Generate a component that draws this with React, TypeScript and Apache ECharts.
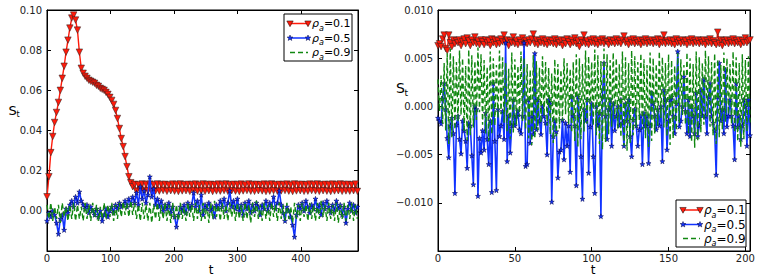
import React, { useEffect, useRef } from "react";
import * as echarts from "echarts";

// values are in units of 1e-3
const UNIT = 1e-3;
const STEP_LEFT = 3; // t spacing of left-panel samples
const STEP_RIGHT = 1;

const redLeft = [
  7, 17, 29, 37, 44, 49, 54, 60, 66, 72, 79, 85, 91, 96, 97.5, 95, 90, 79, 71, 68.5,
  67, 66, 65, 64.5, 64, 63.5, 62.5, 62, 61, 60.5, 60, 59, 58, 56.5, 55, 53, 50, 46, 41, 36,
  32, 27, 22, 17, 14, 12,
  13.2, 9.8, 13.0, 10.1, 13.4, 9.7, 13.1, 10.0, 13.3, 9.6,
  13.0, 9.9, 13.4, 9.8, 13.1, 10.1, 13.2, 9.7, 12.9, 10.0,
  13.3, 9.8, 13.1, 9.6, 13.4, 9.9, 13.0, 10.0, 13.2, 9.7,
  13.1, 10.1, 13.3, 9.8, 12.9, 9.9, 13.4, 9.7, 13.1, 10.0,
  13.2, 9.6, 13.0, 9.9, 13.3, 9.8, 13.1, 10.1, 13.4, 9.7,
  13.0, 10.0, 13.2, 9.8, 13.1, 9.6, 13.3, 9.9, 12.9, 10.1,
  13.4, 9.8, 13.1, 9.7, 13.2, 10.0, 13.0, 9.9, 13.3, 9.6,
  13.1, 9.8, 13.4, 10.0, 13.0, 9.7, 13.2, 9.9, 13.1, 10.1,
  13.3, 9.8, 12.9, 9.6, 13.4, 9.9, 13.1, 10.0, 13.2, 9.7,
  13.0, 9.8, 13.3, 10.1, 13.1, 9.9, 13.4, 9.7, 13.0, 10.0,
  13.2, 9.8, 13.1, 9.6, 13.3, 9.9, 13.0, 10.0, 13.4, 9.7,
  13.1, 9.9, 13.2, 9.8, 13.0, 10.0, 13.3, 9.7,
];

const blueLeft = [
  -5, -1, -3, 0, -2, -6, -11.5, -4, -2, -9.5,
  1, -1, 3, 5, 2, 7, 4, 9.5, 5, 3,
  1, 3, -1, 2, 0, -2, 1, -3, 0, -5,
  -2, 1, -3, 0, 2, -1, 3, 1, 4, 2,
  3, 5, 2, 6, 3, 7, 4, 9, 3, 12,
  6, 10, 4, 8, 17, 7, 11, 3, 6, 2,
  5, 0, 3, 1, 4, -1, 2, -3, -8, -2,
  2, 0, 3, -1, 4, 1, 3, 9, 2, 5,
  0, 8, -2, 3, 1, 4, 0, 2, -3, 3,
  1, 5, 2, 6, 0, 4, 10, 2, 5, 1,
  6, 0, 3, -2, 4, 1, 5, -1, 3, 0,
  4, 2, -2, 3, 1, 5, 0, 4, 2, 7,
  1, 4, 10, 3, -1, -5, 2, 0, -3, -7,
  -13, -2, 3, 1, 4, 0, 5, 2, -1, 3,
  1, 6, 0, 3, -2, 4, 1, 5, 2, -1,
  3, 0, 5, 1, 3, -2, 2, -6, 1, 4,
  0, 3, -1, 2,
];

const greenLeft = [
  3, -4, 4, -5, 2, -4, 3, -6, 4, -3, 2, -5, 3, -4, 4, -5, 3, -4, 2, -5,
  4, -4, 3, -5, 4, -3, 3, -5, 2, -4, 4, -4, 3, -3, 4, -5, 3, -4, 4, -3,
  4.5, -2, 4, -3, 5, -2, 4, -4, 3, -5, 4, -4, 3, -5, 4, -6, 3, -4, 4, -5,
  3, -4, 4, -5, 3, -6, 4, -4, 3, -5, 4, -4, 2, -5, 4, -3, 3, -5, 4, -4,
  3, -5, 4, -4, 3, -6, 4, -4, 5, -3, 3, -5, 4, -4, 3, -5, 4, -3, 3, -5,
  4, -4, 3, -5, 4, -4, 3, -6, 4, -3, 5, -4, 3, -5, 4, -4, 3, -5, 4, -3,
  3, -5, 4, -4, 3, -5, 4, -4, 2, -6, 4, -4, 3, -5, 4, -3, 3, -5, 4, -4,
  3, -5, 4, -4, 5, -3, 3, -5, 4, -4, 3, -5, 4, -6, 3, -4, 4, -5, 3, -4,
  4, -5, 3, -4,
];

const redRight = [
  6.3, 6.5, 6.2, 7.0, 7.4, 6.0, 5.8, 7.4, 6.6, 6.2,
  6.9, 6.5, 6.8, 6.6, 6.9, 6.3, 6.7, 7.0, 6.5, 7.1,
  6.8, 6.3, 6.9, 6.6, 7.2, 6.5, 6.8, 6.4, 6.9, 6.7,
  6.4, 6.9, 6.6, 6.8, 6.3, 7.0, 6.6, 6.9, 6.4, 6.8,
  6.5, 7.0, 6.7, 7.4, 6.6, 6.9, 6.3, 6.8, 6.6, 7.2,
  6.5, 6.8, 6.4, 6.9, 6.6, 7.1, 6.4, 6.8, 6.5, 6.9,
  6.6, 7.0, 7.5, 6.5, 6.9, 6.4, 6.8, 6.6, 7.0, 6.5,
  6.8, 6.4, 6.9, 6.6, 6.8, 6.5, 7.0, 6.4, 6.8, 6.6,
  6.9, 6.3, 6.8, 6.5, 7.0, 6.7, 6.4, 6.9, 6.6, 7.1,
  6.5, 6.8, 6.2, 6.9, 6.6, 7.4, 6.5, 6.8, 6.4, 6.9,
  6.6, 7.0, 6.5, 6.8, 6.4, 6.9, 6.6, 7.0, 6.5, 6.8,
  6.7, 6.4, 6.9, 6.6, 6.8, 6.5, 7.0, 6.6, 6.8, 6.5,
  6.9, 7.3, 6.6, 6.8, 6.4, 6.9, 6.6, 7.0, 6.5, 6.8,
  6.6, 6.9, 6.4, 6.8, 6.6, 7.0, 6.5, 6.8, 6.6, 6.9,
  6.5, 6.8, 6.6, 7.0, 6.4, 6.9, 6.6, 7.4, 6.5, 6.8,
  6.6, 6.9, 6.5, 6.8, 6.4, 7.0, 6.6, 6.8, 6.5, 6.9,
  6.6, 6.8, 6.4, 6.9, 6.6, 7.0, 6.5, 6.8, 6.6, 6.9,
  6.5, 6.8, 6.6, 6.9, 6.4, 6.8, 6.6, 7.0, 6.5, 6.8,
  6.6, 6.4, 7.7, 6.5, 6.9, 6.3, 6.8, 6.6, 6.9, 6.5,
  6.8, 6.6, 7.0, 6.5, 6.8, 6.6, 6.9, 6.4, 6.8, 6.6,
  7.1, 6.6, 6.8, 6.9,
];

const blueRight = [
  -1.2, -1.5, -1.8, 0.8, 2.4, -0.3, -3.3, -5.3, -2.0, -1.2,
  -2.8, -9.0, -1.9, -1.0, -3.4, -4.9, -1.5, -2.5, -3.6, -6.4,
  -1.7, -2.0, -5.1, -8.1, 0.0, -0.3, -9.3, -3.3, -4.8, -2.5,
  -4.5, -0.7, -3.4, -6.0, -1.5, -8.9, 2.4, -3.6, -8.7, -0.3,
  -3.1, -2.0, -0.5, -3.4, 6.6, -5.7, -1.0, -4.8, -2.0, 0.7,
  -2.0, -1.0, -0.5, -2.4, -2.8, -1.0, 6.6, -6.2, -6.0, 0.7,
  -3.8, -1.0, -2.9, 5.5, -2.4, 0.7, -1.5, -2.9, 0.0, -1.0,
  -1.7, -5.0, 0.7, 0.3, -9.9, -3.1, -1.5, -2.6, -7.4, -4.7,
  -4.5, -1.4, -5.5, -1.7, -4.1, -2.0, -6.8, 1.0, -1.0, -2.0,
  -8.2, 1.0, -1.0, -5.2, -9.6, -0.3, -1.5, 0.7, -6.9, -2.1,
  0.3, -5.2, -9.0, 0.0, -2.0, -0.7, -11.4, 1.0, 4.5, -1.0,
  -3.4, -0.3, 0.7, -4.1, 0.3, -2.5, -1.0, 0.0, -2.0, 0.7,
  -1.7, -4.1, 0.3, -1.5, 0.7, -3.1, -5.2, -1.4, -0.3, -2.0,
  -4.1, -2.4, -1.0, -6.0, -0.7, -2.0, -1.0, -5.9, -2.0, 1.4,
  0.3, -1.0, -2.4, -0.3, -2.0, 0.0, -5.7, 1.7, 0.7, -4.5,
  -1.5, 0.7, 1.0, -1.0, -2.8, 0.3, 5.7, -2.1, -1.5, 0.0,
  3.1, -0.5, -2.8, 0.7, -3.1, 0.0, -1.0, -2.8, 1.4, -3.1,
  -2.0, 1.7, -1.0, 2.8, -1.0, -2.8, 1.0, 2.4, -1.0, -1.7,
  -2.5, -7.1, 1.0, 4.5, -1.5, -0.3, -2.8, 3.8, -2.1, -1.0,
  0.7, -1.0, -2.0, -5.5, 2.4, -2.1, -1.0, -3.4, -2.0, 0.7,
  0.0, -4.1, 0.7, -3.0,
];

const greenRight = [
  2.8, -0.5, 3.2, -1.8, 4.5, -2.5, 5.5, -3.9, 6.0, -3.2, 5.2, -2.4, 4.6, -1.6, 5.8, -0.9, 5.0, -2.6, 4.2, -3.5,
  5.9, -3.0, 5.3, -2.2, 4.7, -1.4, 6.1, -0.6, 5.4, -1.9, 4.8, -2.8, 4.1, -3.6, 5.7, -2.9, 5.0, -2.0, 4.3, -1.2,
  5.8, -0.8, 5.1, -1.7, 4.5, -2.6, 3.9, -3.4, 5.6, -2.7, 4.9, -1.9, 4.2, -1.1, 5.7, -1.5, 5.0, -2.4, 4.4, -3.3,
  3.8, -4.0, 5.3, -3.3, 4.7, -2.5, 4.0, -1.7, 5.2, -1.0, 4.6, -2.0, 4.0, -2.9, 3.4, -3.8, 4.9, -3.1, 4.4, -2.3,
  3.8, -1.5, 5.0, -0.8, 4.5, -1.8, 3.9, -2.7, 4.6, -3.6, 5.4, -4.2, 5.0, -3.4, 4.4, -2.6, 5.8, -1.8, 5.2, -1.0,
  4.6, -2.0, 5.9, -3.0, 5.3, -3.9, 4.7, -4.5, 6.0, -3.7, 5.4, -2.9, 4.8, -2.1, 5.6, -1.3, 5.0, -2.3, 4.4, -3.2,
  5.7, -4.1, 5.1, -4.6, 4.5, -3.8, 5.8, -3.0, 5.2, -2.2, 4.6, -1.4, 5.5, -2.4, 4.9, -3.3, 4.3, -4.2, 5.6, -3.6,
  5.0, -2.8, 4.4, -2.0, 5.7, -1.2, 5.1, -2.2, 4.5, -3.1, 5.4, -4.0, 4.8, -3.3, 4.2, -2.5, 5.5, -1.7, 4.9, -0.9,
  4.3, -1.9, 5.6, -2.8, 5.0, -3.7, 4.4, -4.3, 5.7, -3.5, 5.1, -2.7, 4.5, -1.9, 5.8, -1.1, 5.2, -2.1, 4.6, -3.0,
  5.5, -3.9, 4.9, -3.2, 4.3, -2.4, 5.6, -1.6, 5.0, -0.8, 4.4, -1.8, 5.7, -2.7, 5.1, -3.6, 4.5, -4.2, 5.4, -3.4,
  4.8, -2.6, 5.2, -1.8,
];

const legendLabels = ["=0.1", "=0.5", "=0.9"];

const FONT = "DejaVu Sans";
const RED = "#ff1a0a";
const BLUE = "#1133ff";
const GREEN = "#118811";

const toPairs = (arr: number[], step: number) => arr.map((v, i) => [i * step, v * UNIT]);

const STAR_PATH =
  "path://M5,0L6.2,3.6L10,3.6L6.9,5.9L8.1,9.5L5,7.3L1.9,9.5L3.1,5.9L0,3.6L3.8,3.6Z";

function triPts(cx: number, cy: number, r: number) {
  return [
    [cx - r, cy - r * 0.8],
    [cx + r, cy - r * 0.8],
    [cx, cy + r],
  ];
}
function starPts(cx: number, cy: number, r: number) {
  const pts: number[][] = [];
  for (let k = 0; k < 10; k++) {
    const a = -Math.PI / 2 + (k * Math.PI) / 5;
    const rr = k % 2 === 0 ? r : r * 0.42;
    pts.push([cx + rr * Math.cos(a), cy + rr * Math.sin(a)]);
  }
  return pts;
}

function legendGroup(bx: number, by: number, bw: number, bh: number, x1: number, x2: number, rows: number[], tx: number, fs: number) {
  const children: any[] = [
    { type: "rect", shape: { x: bx, y: by, width: bw, height: bh }, style: { fill: "#fff", stroke: "#000", lineWidth: 1 } },
  ];
  rows.forEach((y, i) => {
    if (i === 0) {
      children.push({ type: "line", shape: { x1, y1: y, x2, y2: y }, style: { stroke: RED, lineWidth: 1.5 } });
      [x1, x2].forEach((x) =>
        children.push({ type: "polygon", shape: { points: triPts(x, y, 3.2) }, style: { fill: RED, stroke: "#000", lineWidth: 0.5 } })
      );
    } else if (i === 1) {
      children.push({ type: "line", shape: { x1, y1: y, x2, y2: y }, style: { stroke: BLUE, lineWidth: 1.5 } });
      [x1, x2].forEach((x) =>
        children.push({ type: "polygon", shape: { points: starPts(x, y, 3) }, style: { fill: BLUE, stroke: "#000033", lineWidth: 0.5 } })
      );
    } else {
      children.push({ type: "line", shape: { x1, y1: y, x2, y2: y }, style: { stroke: GREEN, lineWidth: 1.5, lineDash: [5, 3] } });
    }
    children.push({
      type: "text",
      x: tx,
      y,
      style: {
        text: `{r|ρ}{s|a}{n|${legendLabels[i]}}`,
        align: "left",
        verticalAlign: "middle",
        fill: "#000",
        rich: {
          r: { fontFamily: FONT, fontStyle: "italic", fontSize: fs, lineHeight: fs + 6 },
          s: { fontFamily: FONT, fontStyle: "italic", fontSize: Math.round(fs * 0.7), lineHeight: Math.round(fs * 0.7), verticalAlign: "bottom" },
          n: { fontFamily: FONT, fontSize: fs, lineHeight: fs + 6 },
        },
      },
    });
  });
  return { type: "group", z: 100, children };
}

function subLabel(x: number, y: number, fs: number, main: string, sub: string) {
  return [
    { type: "text", z: 100, x, y, style: { text: main, fontFamily: FONT, fontSize: fs, fill: "#000", align: "center", verticalAlign: "middle" } },
    {
      type: "text",
      z: 100,
      x: x + fs * 0.42,
      y: y + fs * 0.35,
      style: { text: sub, fontFamily: FONT, fontSize: Math.round(fs * 0.65), fill: "#000", align: "center", verticalAlign: "middle" },
    },
  ];
}

function axisName(x: number, y: number) {
  return {
    type: "text",
    z: 100,
    x,
    y,
    style: { text: "t", fontFamily: FONT, fontSize: 12, lineHeight: 10, fill: "#000", align: "center", verticalAlign: "middle" },
  };
}

export default function App() {
  const ref = useRef<HTMLDivElement>(null);
  useEffect(() => {
    if (!ref.current) return;
    const chart = echarts.init(ref.current, null, { renderer: "svg" });

    const tickStyle = { inside: true, length: 4, lineStyle: { color: "#000", width: 1 } };
    const lblStyle = { fontFamily: FONT, fontSize: 10, color: "#222" };
    const fmtL = (v: number) => (Math.abs(v) < 1e-12 ? "0.00" : v.toFixed(2));
    const fmtR = (v: number) => {
      if (Math.abs(v) < 1e-12) return "0.000";
      const s = Math.abs(v).toFixed(3);
      return v < 0 ? "\u2212" + s : s;
    };

    const xBase = (grid: number, max: number, interval: number, top: boolean) => ({
      type: "value",
      gridIndex: grid,
      position: top ? "top" : "bottom",
      min: 0,
      max,
      interval,
      axisLine: { show: true, onZero: false, lineStyle: { color: "#000" } },
      axisTick: tickStyle,
      axisLabel: top ? { show: false } : { ...lblStyle, lineHeight: 10, margin: 2, showMaxLabel: false },
      splitLine: { show: false },
    });
    const yBase = (grid: number, min: number, max: number, interval: number, right: boolean, fmt: (v: number) => string) => ({
      type: "value",
      gridIndex: grid,
      position: right ? "right" : "left",
      min,
      max,
      interval,
      axisLine: { show: true, onZero: false, lineStyle: { color: "#000" } },
      axisTick: tickStyle,
      axisLabel: right ? { show: false } : { ...lblStyle, margin: 5, showMinLabel: false, formatter: fmt },
      splitLine: { show: false },
    });

    const redS = (data: any, xi: number, yi: number) => ({
      type: "line",
      name: "ρa=0.1",
      xAxisIndex: xi,
      yAxisIndex: yi,
      data,
      symbol: "triangle",
      symbolRotate: 180,
      symbolSize: 6.5,
      lineStyle: { color: RED, width: 1.4 },
      itemStyle: { color: RED, borderColor: "#222", borderWidth: 0.5 },
      silent: true,
      z: 2,
    });
    const blueS = (data: any, xi: number, yi: number) => ({
      type: "line",
      name: "ρa=0.5",
      xAxisIndex: xi,
      yAxisIndex: yi,
      data,
      symbol: STAR_PATH,
      symbolSize: 5,
      lineStyle: { color: BLUE, width: 1.6 },
      itemStyle: { color: BLUE, borderColor: "#000044", borderWidth: 0.5 },
      silent: true,
      z: 3,
    });
    const greenS = (data: any, xi: number, yi: number) => ({
      type: "line",
      name: "ρa=0.9",
      xAxisIndex: xi,
      yAxisIndex: yi,
      data,
      showSymbol: false,
      symbol: "none",
      lineStyle: { color: GREEN, width: 1.4, type: [5, 3] },
      silent: true,
      z: 4,
    });

    chart.setOption({
      animation: false,
      backgroundColor: "#fff",
      grid: [
        { left: 47, top: 10, width: 311, height: 241, show: true, borderColor: "#000", borderWidth: 1, backgroundColor: "#fff" },
        { left: 438, top: 10, width: 312, height: 241, show: true, borderColor: "#000", borderWidth: 1, backgroundColor: "#fff" },
      ],
      xAxis: [xBase(0, 490, 100, false), xBase(0, 490, 100, true), xBase(1, 203, 50, false), xBase(1, 203, 50, true)],
      yAxis: [
        yBase(0, -0.02, 0.1, 0.02, false, fmtL),
        yBase(0, -0.02, 0.1, 0.02, true, fmtL),
        yBase(1, -0.015, 0.01, 0.005, false, fmtR),
        yBase(1, -0.015, 0.01, 0.005, true, fmtR),
      ],
      series: [
        redS(toPairs(redLeft, STEP_LEFT), 0, 0),
        blueS(toPairs(blueLeft, STEP_LEFT), 0, 0),
        greenS(toPairs(greenLeft, STEP_LEFT), 0, 0),
        redS(toPairs(redRight, STEP_RIGHT), 2, 2),
        blueS(toPairs(blueRight, STEP_RIGHT), 2, 2),
        greenS(toPairs(greenRight, STEP_RIGHT), 2, 2),
      ],
      graphic: [
        legendGroup(284, 14, 68, 47, 290, 308, [23.5, 38, 52.5], 312, 11),
        legendGroup(676, 200, 70, 47, 683, 700, [210, 224.5, 238.5], 704, 12),
        ...subLabel(12.5, 110, 13, "S", "t"),
        ...subLabel(400.5, 88, 14, "S", "t"),
        axisName(211, 270),
        axisName(593, 270),
      ],
    });
    return () => chart.dispose();
  }, []);
  return <div ref={ref} style={{ position: "absolute", left: 0, top: 0, width: 761, height: 276, background: "#fff" }} />;
}
